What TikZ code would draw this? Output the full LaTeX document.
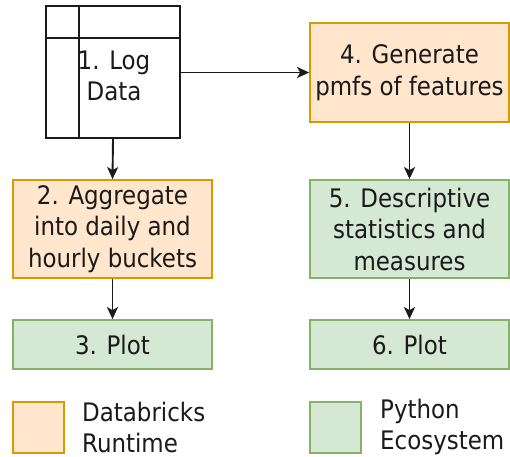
\documentclass[tikz,border=0pt]{standalone}
\usepackage{fontspec}
\setmainfont{DejaVu Sans Condensed}
\usetikzlibrary{arrows.meta}
\definecolor{dbfill}{HTML}{FFE6CC}
\definecolor{dbline}{HTML}{D79B00}
\definecolor{pyfill}{HTML}{D5E8D4}
\definecolor{pyline}{HTML}{82B366}
\definecolor{ink}{HTML}{1A1A1A}
\tikzset{
  base/.style={rectangle, align=center, inner sep=2pt, text=ink,
    font=\fontsize{25.5}{31.5}\selectfont, line width=1.8pt},
  dbbox/.style={base, draw=dbline, fill=dbfill},
  pybox/.style={base, draw=pyline, fill=pyfill},
  storebox/.style={base, draw=ink, fill=white, line width=2pt},
  conn/.style={draw=ink, line width=1.9pt, -{Stealth[length=12pt,width=11pt,inset=3pt]}},
  legtext/.style={anchor=west, align=left, text=ink, inner sep=0pt,
    font=\fontsize{25.5}{31}\selectfont},
}
\begin{document}
\begin{tikzpicture}[x=1pt,y=-1pt]
\useasboundingbox (0,0) rectangle (510,456);

% step 1: log data store
\node[storebox, minimum width=134pt, minimum height=132pt] (n1) at (113,72) {};
\draw[ink, line width=2pt] ([xshift=34pt]n1.north west) -- ([xshift=34pt]n1.south west);
\draw[ink, line width=2pt] ([yshift=-33pt]n1.north west) -- ([yshift=-33pt]n1.north east);
\node[base] (t1) at (114,76) {1. Log\\Data};

% processing steps
\node[dbbox, minimum width=199pt, minimum height=98pt] (n2) at (112.5,229) {2. Aggregate\\into daily and\\hourly buckets};
\node[pybox, minimum width=199pt, minimum height=49pt] (n3) at (112.5,344.5) {3. Plot};
\node[dbbox, minimum width=199pt, minimum height=99pt] (n4) at (409.5,72.5) {4. Generate\\pmfs of features};
\node[pybox, minimum width=199pt, minimum height=98pt] (n5) at (409.5,229) {5. Descriptive\\statistics and\\measures};
\node[pybox, minimum width=199pt, minimum height=49pt] (n6) at (409.5,344.5) {6. Plot};

% connectors
\draw[conn] (n1.east |- n4.west) -- (n4.west);
\draw[conn] (n1.south) -- (n2.north);
\draw[conn] (n2.south) -- (n3.north);
\draw[conn] (n4.south) -- (n5.north);
\draw[conn] (n5.south) -- (n6.north);

% legend
\node[dbbox, minimum width=51pt, minimum height=51pt] (l1) at (38.5,427.5) {};
\node[legtext] (l1t) at (82,427) {Databricks\\Runtime};
\node[pybox, minimum width=51pt, minimum height=51pt] (l2) at (335.5,427.5) {};
\node[legtext] (l2t) at (380,427) {Python\\Ecosystem};
\end{tikzpicture}
\end{document}
